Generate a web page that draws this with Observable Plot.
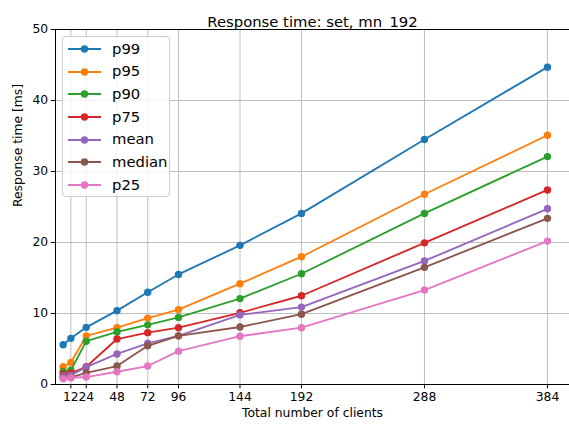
<!DOCTYPE html>
<html>
<head>
<meta charset="utf-8">
<script src="https://cdn.jsdelivr.net/npm/d3@7"></script>
<script src="https://cdn.jsdelivr.net/npm/@observablehq/plot@0.6"></script>
<style>
  html, body { margin: 0; padding: 0; background: #fff; }
  #wrap { position: relative; width: 569px; height: 427px; font-family: "DejaVu Sans", sans-serif; }
  #legend { position: absolute; left: 62px; top: 36px; width: 108px; height: 161px;
    border: 1px solid #cccccc; border-radius: 4px; background: rgba(255,255,255,0.8);
    box-sizing: border-box; font-size: 14.8px; color: #000; }
  .item { position: absolute; left: 0; height: 22px; display: flex; align-items: center; }
  .item svg { margin-left: 5px; }
  .item span { margin-left: 11px; line-height: 1; }
</style>
</head>
<body>
<div id="wrap"><div id="legend"></div></div>
<script>
const clients = [6, 12, 24, 48, 72, 96, 144, 192, 288, 384];
const xTicks = [12, 24, 48, 72, 96, 144, 192, 288, 384];
const yTicks = [0, 10, 20, 30, 40, 50];
const seriesNames = ["p99", "p95", "p90", "p75", "mean", "median", "p25"];
const p99    = [5.6, 6.5, 8.05, 10.4, 13.0, 15.5, 19.6, 24.1, 34.5, 44.7];
const p95    = [2.5, 3.1, 6.85, 8.0, 9.35, 10.55, 14.2, 18.0, 26.8, 35.1];
const p90    = [1.8, 2.0, 6.1, 7.4, 8.4, 9.45, 12.1, 15.6, 24.1, 32.1];
const p75    = [1.5, 1.6, 2.5, 6.4, 7.3, 8.0, 10.1, 12.5, 19.95, 27.4];
const mean   = [1.2, 1.3, 2.45, 4.3, 5.8, 6.85, 9.8, 10.9, 17.4, 24.75];
const median = [0.95, 1.0, 1.65, 2.6, 5.45, 6.85, 8.1, 9.9, 16.5, 23.4];
const p25    = [0.8, 0.95, 1.05, 1.8, 2.6, 4.7, 6.8, 8.0, 13.3, 20.2];
const colors = ["#1f77b4", "#ff7f0e", "#2ca02c", "#d62728", "#9467bd", "#8c564b", "#e377c2"];
const title = "Response time: set, mn_192";
const xLabel = "Total number of clients";
const yLabel = "Response time [ms]";

const valuesBySeries = {p99, p95, p90, p75, mean, median, p25};
const seriesMarks = [];
for (const name of seriesNames) {
  const rows = clients.map((c, i) => ({clients: c, value: valuesBySeries[name][i], series: name}));
  seriesMarks.push(Plot.line(rows, {x: "clients", y: "value", stroke: "series", strokeWidth: 1.85}));
  seriesMarks.push(Plot.dot(rows, {x: "clients", y: "value", fill: "series", r: 3.7}));
}

const chart = Plot.plot({
  width: 569,
  height: 427,
  marginLeft: 55,
  marginRight: 0,
  marginTop: 29,
  marginBottom: 43,
  style: {fontFamily: "DejaVu Sans, sans-serif", fontSize: "12.35px", color: "#000", background: "#fff"},
  x: {domain: [0, 401.2], ticks: xTicks},
  y: {domain: [0, 50], ticks: yTicks},
  color: {domain: seriesNames, range: colors},
  marks: [
    Plot.gridX(xTicks, {stroke: "#b0b0b0", strokeOpacity: 1, strokeWidth: 0.8}),
    Plot.gridY(yTicks, {stroke: "#b0b0b0", strokeOpacity: 1, strokeWidth: 0.8}),
    ...seriesMarks,
    Plot.ruleX([0], {stroke: "#000", strokeWidth: 1}),
    Plot.ruleY([0, 50], {stroke: "#000", strokeWidth: 1}),
    Plot.axisX(xTicks, {tickSize: 4.3, tickPadding: 3, label: null, fontSize: 12.35}),
    Plot.axisY(yTicks, {tickSize: 4.3, tickPadding: 3, label: null, fontSize: 12.35}),
    Plot.text([title], {frameAnchor: "top", dy: -13, fontSize: 14.8}),
    Plot.text([xLabel], {frameAnchor: "bottom", dy: 32, fontSize: 12.35}),
    Plot.text([yLabel], {frameAnchor: "left", dx: -37, rotate: -90, fontSize: 12.35})
  ]
});
document.getElementById("wrap").prepend(chart);

const legend = document.getElementById("legend");
seriesNames.forEach((name, i) => {
  const item = document.createElement("div");
  item.className = "item";
  item.style.top = (1 + i * 22.67) + "px";
  item.innerHTML = `<svg width="33" height="12"><line x1="0" y1="6" x2="33" y2="6" stroke="${colors[i]}" stroke-width="1.85"/><circle cx="16.5" cy="6" r="3.7" fill="${colors[i]}"/></svg><span>${name}</span>`;
  legend.appendChild(item);
});
</script>
</body>
</html>
